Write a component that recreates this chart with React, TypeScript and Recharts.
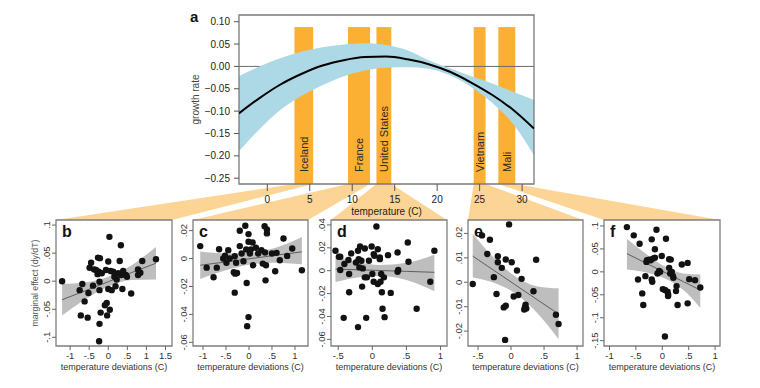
import { ComposedChart, Area, Line, Scatter, XAxis, YAxis, ReferenceArea, ReferenceLine } from 'recharts';

const FONT = '"Liberation Sans", Arial, Helvetica, sans-serif';

// ---- panel a: growth rate vs. annual temperature
const tempC = [-3.33, -1, 1.5, 4, 6.5, 9, 11.5, 14, 16.5, 19, 21.5, 24, 26.5, 29, 31.4];
const growth = [-0.105, -0.072, -0.041, -0.017, 0.002, 0.014, 0.021, 0.022, 0.016, 0.005, -0.012, -0.036, -0.064, -0.098, -0.139];
const growthHi = [-0.022, -0.001, 0.018, 0.033, 0.043, 0.049, 0.052, 0.048, 0.036, 0.014, -0.004, -0.022, -0.038, -0.057, -0.075];
const growthLo = [-0.19, -0.142, -0.098, -0.066, -0.042, -0.022, -0.009, -0.003, -0.002, -0.005, -0.02, -0.046, -0.082, -0.13, -0.199];

const countries = ['Iceland', 'France', 'United States', 'Vietnam', 'Mali'];
const countryFrom = [3.2, 9.5, 12.85, 24.3, 27.2];
const countryTo = [5.4, 12.1, 14.6, 25.7, 29.2];
const countryTop = 0.088;

const tempTicks = [0, 5, 10, 15, 20, 25, 30];
const growthTicks = [-0.25, -0.2, -0.15, -0.1, -0.05, 0, 0.05, 0.1];
const tempDomain = [-3.33, 31.4];
const growthDomain = [-0.263, 0.115];

// ---- panels b-f: marginal effect vs temperature deviations
const bPts = [[-1.21, 0], [-0.75, -0.016], [-0.68, -0.005], [-0.62, -0.036], [-0.72, -0.061], [-0.54, -0.065], [-0.52, -0.021], [-0.49, 0.024], [-0.45, 0.033], [-0.4, -0.008], [-0.37, 0.021], [-0.32, 0.02], [-0.28, 0.0125], [-0.27, 0.042], [-0.25, 0.017], [-0.22, 0.041], [-0.23, -0.001], [-0.23, -0.016], [-0.23, -0.076], [-0.2, -0.056], [-0.24, -0.107], [-0.17, 0.014], [-0.06, 0.02], [-0.09, -0.043], [-0.04, -0.039], [-0.03, -0.061], [0, 0.035], [0, -0.014], [0.03, 0.079], [0.04, -0.051], [0.06, 0.018], [0.09, -0.016], [0.13, 0.017], [0.16, 0.008], [0.19, -0.009], [0.22, 0.003], [0.26, 0.014], [0.3, 0.036], [0.33, 0.064], [0.34, 0.011], [0.37, -0.014], [0.39, 0.018], [0.46, 0.011], [0.49, 0.008], [0.6, -0.022], [0.78, 0.021], [0.78, 0.011], [0.84, 0.015], [0.89, 0.036], [1.25, 0.039]];
const cPts = [[-1.06, 0.0089], [-0.92, -0.0065], [-0.77, -0.0134], [-0.7, -0.0065], [-0.65, 0.0067], [-0.56, 0], [-0.52, 0.002], [-0.49, -0.003], [-0.45, 0.006], [-0.42, 0], [-0.33, -0.0098], [-0.31, 0.0017], [-0.3, -0.0108], [-0.28, -0.003], [-0.26, -0.0103], [-0.31, -0.0244], [-0.2, 0.0199], [-0.2, 0.0089], [-0.16, 0.0036], [-0.12, -0.0019], [-0.08, 0.0235], [-0.06, 0.0065], [-0.05, -0.0175], [-0.01, 0.0175], [-0.01, 0.012], [-0.04, -0.0484], [-0.01, -0.0419], [0.02, 0.0036], [0.04, 0.0065], [0.08, 0.0115], [0.09, -0.0048], [0.15, 0.0077], [0.2, 0.0036], [0.27, 0.006], [0.3, -0.0036], [0.34, 0.0232], [0.35, 0.0043], [0.39, 0.0208], [0.39, 0.018], [0.37, -0.0048], [0.36, -0.0156], [0.5, 0.0036], [0.6, 0.0041], [0.57, -0.0091], [0.67, -0.0012], [0.75, 0.0144], [0.83, 0.0019], [0.94, 0.0072], [1.15, -0.0084]];
const dPts = [[-0.54, 0.0174], [-0.49, 0.0122], [-0.47, 0.0122], [-0.47, 0.0006], [-0.41, 0.0058], [-0.42, -0.0412], [-0.35, 0.0093], [-0.34, -0.0029], [-0.34, -0.0188], [-0.31, 0.0151], [-0.24, 0.0072], [-0.21, 0.0174], [-0.21, -0.0493], [-0.2, 0.0101], [-0.19, 0.0029], [-0.18, 0.0212], [-0.16, 0.0087], [-0.15, -0.0139], [-0.14, 0.002], [-0.11, 0.0194], [-0.11, -0.0058], [-0.08, -0.0058], [-0.09, -0.0412], [-0.05, 0.0087], [-0.01, 0.0212], [0, -0.0029], [0.02, 0.0145], [0.02, -0.0096], [0.03, 0.013], [0.06, 0.0386], [0.08, 0.0188], [0.08, -0.0116], [0.11, 0.0116], [0.11, 0.0101], [0.12, -0.0096], [0.13, -0.0029], [0.14, -0.0188], [0.15, -0.0333], [0.17, -0.0058], [0.18, -0.0406], [0.23, 0.0136], [0.27, -0.0194], [0.37, 0.0159], [0.38, 0.0006], [0.37, -0.0009], [0.52, 0.0246], [0.53, 0.0078], [0.65, -0.0333], [0.85, -0.0096], [0.91, 0.0174]];
const ePts = [[-0.58, -0.0007], [-0.44, 0.0192], [-0.32, 0.0174], [-0.36, 0.0116], [-0.26, 0.0021], [-0.2, 0.0107], [-0.2, 0.0082], [-0.22, -0.0048], [-0.14, 0.0059], [-0.11, -0.0103], [-0.08, -0.0096], [-0.08, 0.0093], [-0.09, -0.0236], [-0.03, 0.0237], [0.01, 0.0082], [0.04, -0.0058], [0.09, 0.0048], [0.11, -0.0052], [0.16, 0.0014], [0.2, -0.0112], [0.21, -0.0103], [0.22, -0.0092], [0.23, -0.0107], [0.34, -0.0037], [0.38, 0.0092], [0.68, -0.0133], [0.72, -0.0171]];
const fPts = [[-0.67, 0.0975], [-0.54, 0.0795], [-0.43, 0.0614], [-0.46, -0.0166], [-0.38, -0.047], [-0.36, -0.0723], [-0.32, -0.0094], [-0.3, 0.0217], [-0.29, 0.0253], [-0.25, 0.0267], [-0.22, 0.0253], [-0.2, 0.0708], [-0.2, -0.0166], [-0.19, -0.0217], [-0.18, 0.0289], [-0.14, 0.0491], [-0.14, 0.031], [-0.11, 0.0918], [-0.09, -0.0036], [-0.06, 0.0022], [-0.04, 0], [-0.01, 0.0347], [0.01, -0.0376], [0.05, -0.0397], [0.07, 0.0723], [0.1, -0.0434], [0.11, -0.0491], [0.11, -0.0527], [0.13, 0.0275], [0.16, 0.0267], [0.13, 0.0087], [0.15, -0.0036], [0.18, 0], [0.2, -0.0087], [0.21, -0.013], [0.26, -0.0419], [0.27, -0.0311], [0.29, -0.0723], [0.37, 0.0159], [0.48, 0.0195], [0.48, -0.0686], [0.51, -0.0159], [0.62, -0.0181], [0.72, -0.034], [0.05, -0.1409]];

// fitted lines and 95% bands, read at a few x positions
const bFitX = [-1.21, -0.6, 0, 0.6, 1.25];
const bFit = [-0.033, -0.017, -0.001, 0.015, 0.032];
const bLo = [-0.061, -0.032, -0.01, 0.002, 0.003];
const bHi = [-0.005, -0.002, 0.008, 0.028, 0.061];
const cFitX = [-1.06, -0.5, 0, 0.5, 1.15];
const cFit = [-0.0048, -0.0024, -0.0002, 0.002, 0.0048];
const cLo = [-0.0146, -0.0084, -0.0045, -0.003, -0.004];
const cHi = [0.005, 0.0036, 0.0041, 0.007, 0.0155];
const dFitX = [-0.54, -0.2, 0.1, 0.5, 0.91];
const dFit = [0.0014, 0.0008, 0.0002, -0.0006, -0.0014];
const dLo = [-0.0099, -0.0057, -0.0046, -0.0081, -0.018];
const dHi = [0.0127, 0.0073, 0.005, 0.0069, 0.014];
const eFitX = [-0.58, -0.25, 0.05, 0.4, 0.72];
const eFit = [0.0107, 0.0047, -0.0008, -0.0072, -0.013];
const eLo = [0.002, -0.0003, -0.0043, -0.0127, -0.0233];
const eHi = [0.0199, 0.0097, 0.0027, -0.0017, -0.0025];
const fFitX = [-0.67, -0.3, 0.05, 0.4, 0.72];
const fFit = [0.0397, 0.0186, -0.0014, -0.0214, -0.0397];
const fLo = [0.005, -0.0014, -0.0144, -0.0394, -0.078];
const fHi = [0.0723, 0.0386, 0.0116, -0.0034, -0.0058];

const panelLetters = ['b', 'c', 'd', 'e', 'f'];
const panelPts = [bPts, cPts, dPts, ePts, fPts];
const panelFit = [
  [bFitX, bFit, bLo, bHi],
  [cFitX, cFit, cLo, cHi],
  [dFitX, dFit, dLo, dHi],
  [eFitX, eFit, eLo, eHi],
  [fFitX, fFit, fLo, fHi],
];
const panelXTicks = [
  [-1, -0.5, 0, 0.5, 1, 1.5],
  [-1, -0.5, 0, 0.5, 1],
  [-0.5, 0, 0.5, 1],
  [-0.5, 0, 0.5, 1],
  [-1, -0.5, 0, 0.5, 1],
];
const panelYTicks = [
  [-0.1, -0.05, 0, 0.05, 0.1],
  [-0.06, -0.04, -0.02, 0, 0.02],
  [-0.06, -0.04, -0.02, 0, 0.02, 0.04],
  [-0.02, -0.01, 0, 0.01, 0.02],
  [-0.15, -0.1, -0.05, 0, 0.05, 0.1],
];
const panelXDomain = [[-1.37, 1.67], [-1.217, 1.283], [-0.606, 1.095], [-0.652, 1.09], [-1.104, 1.093]];
const panelYDomain = [[-0.1155, 0.109], [-0.0626, 0.0276], [-0.0658, 0.0443], [-0.0261, 0.0255], [-0.1616, 0.113]];

// layout
const PANEL_LEFT = [56, 193, 331, 468, 604];
const PANEL_W = [116, 115, 116, 115, 116];
const PANEL_TOP = 220;
const PANEL_H = 126;
const TOP_MARGIN = { top: 15, right: 226, bottom: 0, left: 180 };
const TOP_YAXIS_W = 59;
const TOP_XAXIS_H = 40;

const rfmt = (v: number) => String(Math.round(v * 1000) / 1000).replace(/^(-?)0\./, '$1.');
const gfmt = (v: number) => v.toFixed(2).replace('-', '\u2212');

const RotTick = (props: any) => {
  const { x, y, payload } = props;
  return (
    <text x={x} y={y} transform={`rotate(-90 ${x} ${y})`} textAnchor="middle" fontSize={9.5} fill="#333" fontFamily={FONT}>
      {rfmt(payload.value)}
    </text>
  );
};

const barShape = (i: number) => (props: any) => {
  const { x, y, width, height } = props;
  const b = y + height;
  const pl = PANEL_LEFT[i];
  const pr = pl + PANEL_W[i];
  return (
    <g>
      <polygon points={`${x},${b} ${x + width},${b} ${pr},${PANEL_TOP} ${pl},${PANEL_TOP}`} fill="#FCD596" />
      <rect x={x} y={y} width={width} height={height} fill="#FBB034" />
    </g>
  );
};

const countryLabel = (name: string) => (props: any) => {
  const vb = props.viewBox;
  const tx = vb.x + vb.width / 2 + 4;
  const ty = vb.y + vb.height - 12;
  return (
    <text x={tx} y={ty} transform={`rotate(-90 ${tx} ${ty})`} fontSize={11} fill="#2a2a2a" fontFamily={FONT}>
      {name}
    </text>
  );
};

// country bars + connectors, drawn underneath the response curve
function CountryLayer() {
  return (
    <div style={{ position: 'absolute', left: 0, top: 0 }}>
      <ComposedChart
        width={760}
        height={224}
        data={tempC.map((t) => ({ t }))}
        margin={{ ...TOP_MARGIN, left: TOP_MARGIN.left + TOP_YAXIS_W, bottom: TOP_XAXIS_H }}
      >
        <XAxis type="number" dataKey="t" domain={tempDomain} allowDataOverflow hide />
        <YAxis type="number" domain={growthDomain} allowDataOverflow hide />
        <ReferenceLine y={0} stroke="#6a6a6a" strokeWidth={1} />
        {countries.map((name, i) => (
          <ReferenceArea
            key={name}
            x1={countryFrom[i]}
            x2={countryTo[i]}
            y1={growthDomain[0]}
            y2={countryTop}
            shape={barShape(i)}
            label={countryLabel(name)}
          />
        ))}
      </ComposedChart>
    </div>
  );
}

function GrowthPanel() {
  const data = tempC.map((t, k) => ({ t, c: growth[k], lo: growthLo[k], hi: growthHi[k] }));
  return (
    <div style={{ position: 'absolute', left: 0, top: 0 }}>
      <ComposedChart width={760} height={224} data={data} margin={TOP_MARGIN}>
        <Area dataKey={(d: any) => [d.lo, d.hi]} type="monotone" fill="#ADD8E6" fillOpacity={1} stroke="none" isAnimationActive={false} />
        <Line dataKey="c" type="monotone" stroke="#000" strokeWidth={2} dot={false} isAnimationActive={false} />
        <ReferenceArea
          x1={tempDomain[0]}
          x2={tempDomain[1]}
          y1={growthDomain[0]}
          y2={growthDomain[1]}
          fill="none"
          stroke="#7a7a7a"
          strokeWidth={1.3}
          ifOverflow="visible"
        />
        <XAxis
          type="number"
          dataKey="t"
          domain={tempDomain}
          ticks={tempTicks}
          allowDataOverflow
          interval={0}
          axisLine={false}
          tickSize={7}
          tickMargin={5}
          height={TOP_XAXIS_H}
          stroke="#555"
          tick={{ fontSize: 10, fill: '#222', fontFamily: FONT }}
          label={{ value: 'temperature (C)', position: 'insideBottom', offset: 9, fontSize: 10, fill: '#222', fontFamily: FONT }}
        />
        <YAxis
          type="number"
          domain={growthDomain}
          ticks={growthTicks}
          allowDataOverflow
          interval={0}
          axisLine={false}
          tickSize={5}
          tickMargin={4}
          width={TOP_YAXIS_W}
          stroke="#555"
          tickFormatter={gfmt}
          tick={{ fontSize: 10, fill: '#222', fontFamily: FONT }}
          label={{ value: 'growth rate', angle: -90, position: 'insideLeft', offset: 15, fontSize: 10, fill: '#444', fontFamily: FONT, style: { textAnchor: 'middle' } }}
        />
      </ComposedChart>
    </div>
  );
}

function DeviationPanel({ i }: { i: number }) {
  const [fx, fit, lo, hi] = panelFit[i];
  const band = fx.map((x, k) => ({ x, fit: fit[k], lo: lo[k], hi: hi[k] }));
  const pts = panelPts[i].map(([x, y]) => ({ x, y }));
  const w = PANEL_W[i];
  const xd = panelXDomain[i];
  const yd = panelYDomain[i];
  return (
    <div style={{ position: 'absolute', left: PANEL_LEFT[i] - 50, top: PANEL_TOP - 5 }}>
      <ComposedChart width={50 + w + 6} height={5 + PANEL_H + 30} data={band} margin={{ top: 5, right: 6, bottom: 0, left: 0 }}>
        <Area dataKey={(d: any) => [d.lo, d.hi]} type="monotone" fill="#BEBEBE" fillOpacity={1} stroke="none" isAnimationActive={false} />
        <Line dataKey="fit" type="linear" stroke="#5e5e5e" strokeWidth={1} dot={false} isAnimationActive={false} />
        <Scatter
          data={pts}
          dataKey="y"
          isAnimationActive={false}
          shape={(p: any) => <circle cx={p.cx} cy={p.cy} r={3.2} fill="#121212" />}
        />
        <ReferenceArea
          x1={xd[0]}
          x2={xd[1]}
          y1={yd[0]}
          y2={yd[1]}
          fill="none"
          stroke="#7f7f7f"
          strokeWidth={1.3}
          ifOverflow="visible"
          label={{ value: panelLetters[i], position: 'insideTopLeft', offset: 6, fontSize: 16, fontWeight: 'bold', fill: '#111', fontFamily: FONT }}
        />
        <XAxis
          type="number"
          dataKey="x"
          domain={xd}
          ticks={panelXTicks[i]}
          allowDataOverflow
          interval={0}
          axisLine={false}
          tickSize={4}
          tickMargin={2}
          height={30}
          stroke="#666"
          tickFormatter={rfmt}
          tick={{ fontSize: 9.5, fill: '#333', fontFamily: FONT }}
          label={{ value: 'temperature deviations (C)', position: 'insideBottom', offset: 6, fontSize: 9, fill: '#333', fontFamily: FONT }}
        />
        <YAxis
          type="number"
          dataKey="y"
          domain={yd}
          ticks={panelYTicks[i]}
          allowDataOverflow
          interval={0}
          axisLine={false}
          tickSize={4}
          tickMargin={2}
          width={50}
          stroke="#666"
          tick={RotTick}
          label={
            i === 0
              ? { value: 'marginal effect (dy/dT)', angle: -90, position: 'insideLeft', offset: 29, fontSize: 8.7, fill: '#555', fontFamily: FONT, style: { textAnchor: 'middle' } }
              : undefined
          }
        />
      </ComposedChart>
    </div>
  );
}

export default function App() {
  return (
    <div style={{ position: 'absolute', left: 0, top: 0, width: 760, height: 388, background: '#fff', fontFamily: FONT }}>
      <CountryLayer />
      <GrowthPanel />
      {panelLetters.map((l, i) => (
        <DeviationPanel key={l} i={i} />
      ))}
      <svg width={760} height={40} style={{ position: 'absolute', left: 0, top: 0, pointerEvents: 'none' }}>
        <text x={190} y={22} fontSize={15} fontWeight="bold" fill="#111" fontFamily={FONT}>a</text>
      </svg>
    </div>
  );
}
